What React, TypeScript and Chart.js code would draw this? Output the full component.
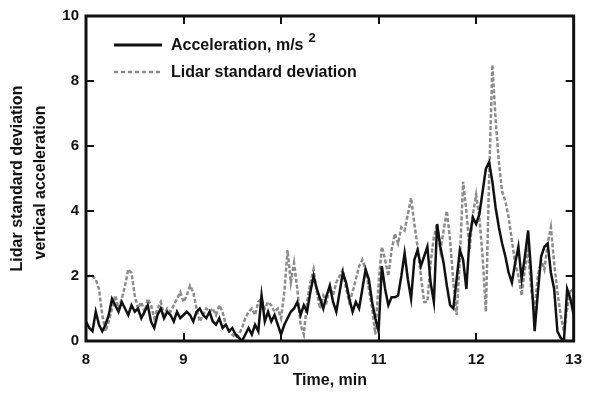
import { useEffect, useRef } from "react";
import { Chart, registerables } from "chart.js";

Chart.register(...registerables);

// Acceleration (black, solid) sampled every 2 s from 8 to 13 min
const acceleration = [
  0.6, 0.4, 0.3, 0.9, 0.5, 0.3, 0.5, 0.8, 1.3, 1.1, 0.9, 1.2, 1.0, 0.8, 1.1, 0.9,
  1.0, 0.7, 0.9, 1.1, 0.6, 0.4, 0.8, 1.0, 0.7, 0.9, 0.8, 0.6, 0.9, 0.7, 0.8,
  0.9, 0.8, 0.6, 0.9, 1.0, 0.8, 0.7, 0.9, 0.6, 0.5, 0.7, 0.4, 0.5, 0.3, 0.4,
  0.2, 0.1, 0.0, 0.2, 0.4, 0.2, 0.5, 0.3, 1.4, 0.6, 0.9, 0.6, 0.8, 0.5, 0.2,
  0.5, 0.7, 0.9, 1.0, 1.2, 0.8, 1.1, 0.9, 1.5, 2.0, 1.6, 1.3, 1.0, 1.4, 1.7,
  1.2, 0.9, 1.5, 2.1, 1.8, 1.3, 0.9, 1.2, 1.0, 1.6, 2.2, 1.9, 1.2, 0.7, 0.3,
  2.3, 1.6, 1.1, 1.35, 1.35, 1.4, 2.0, 2.7, 1.9, 1.3, 2.5, 2.8, 2.3, 2.6, 2.9,
  1.8, 1.2, 3.6, 2.9, 2.4, 1.7, 1.1, 1.0, 1.9, 2.8, 2.5, 1.6, 3.2, 3.8, 3.6,
  3.9, 4.6, 5.3, 5.5, 4.9, 4.1, 3.5, 3.0, 2.6, 2.1, 1.8, 2.4, 2.9, 1.9, 2.6,
  3.4, 2.0, 0.3, 1.5, 2.6, 2.9, 3.0, 2.1, 1.6, 0.3, 0.1, 0.0, 1.6, 1.3, 0.8,
];

// Lidar standard deviation (gray, dashed)
const lidarStd = [
  2.0, 2.0, 2.0, 1.9, 1.6, 0.8, 0.3, 0.6, 1.0, 1.4, 1.0, 1.3, 1.7, 2.2, 2.1, 1.4,
  1.0, 1.2, 0.9, 1.3, 1.1, 0.7, 1.0, 1.2, 0.8, 1.0, 0.9, 1.1, 1.3, 1.5, 1.2,
  1.4, 1.7, 1.5, 1.0, 0.6, 0.8, 1.0, 0.9, 1.0, 0.8, 1.1, 0.9, 0.5, 0.3, 0.2,
  0.1, 0.2, 0.4, 0.7, 0.9, 1.0, 0.8, 1.2, 1.3, 1.0, 1.2, 1.1, 0.9, 1.0, 0.7,
  1.5, 2.8, 1.8, 2.4, 1.6, 0.5, 0.2, 1.2, 1.8, 2.2, 1.5, 1.0, 1.4, 1.2, 1.7,
  1.4, 1.8, 2.0, 2.2, 1.6, 1.2, 1.5, 1.9, 2.3, 2.5, 2.2, 1.6, 1.0, 0.2, 1.8,
  2.9, 2.5, 2.0, 2.8, 3.3, 3.0, 3.5, 3.4, 3.9, 4.4, 3.6, 2.9, 2.0, 1.2, 1.2,
  2.4, 3.2, 3.6, 2.8, 3.4, 4.0, 3.1, 1.8, 0.8, 2.5, 4.9, 4.0, 2.8, 3.9, 4.5,
  3.8, 2.6, 0.9, 5.0, 8.5, 6.8, 5.5, 4.6, 4.3, 3.8, 3.1, 2.4, 2.0, 1.4, 2.2,
  2.8, 1.5, 1.0, 2.0, 2.5, 2.2, 3.0, 3.5, 2.4, 1.5, 0.8, 0.3, 1.0, 1.6, 1.5,
];

// sample times (min): one sample every 2 seconds
const sampleTimes = acceleration.map((_, i) => 8 + i / 30);

const xTicks = [8, 9, 10, 11, 12, 13];
const yTicks = [0, 2, 4, 6, 8, 10];
const accelLabel = "Acceleration, m/s";
const accelSup = "2";
const lidarLabel = "Lidar standard deviation";
const yTitleLines = ["Lidar standard deviation", "vertical acceleration"];
const xTitle = "Time, min";

const FONT = "'Liberation Sans', Arial, sans-serif";
const BLACK = "#111111";
const GRAY = "#8c8c8c";

const framePlugin = {
  id: "frameAndLegend",
  afterDraw(chart: any) {
    const ctx = chart.ctx;
    const { left, right, top, bottom } = chart.chartArea;
    const xs = chart.scales.x;
    const ys = chart.scales.y;
    ctx.save();
    // frame
    ctx.strokeStyle = BLACK;
    ctx.lineWidth = 3;
    ctx.strokeRect(left, top, right - left, bottom - top);
    // inward ticks
    ctx.lineWidth = 2;
    ctx.beginPath();
    xTicks.slice(1, -1).forEach((v) => {
      const px = Math.round(xs.getPixelForValue(v));
      ctx.moveTo(px, bottom);
      ctx.lineTo(px, bottom - 8);
      ctx.moveTo(px, top);
      ctx.lineTo(px, top + 8);
    });
    yTicks.slice(1, -1).forEach((v) => {
      const py = Math.round(ys.getPixelForValue(v));
      ctx.moveTo(left, py);
      ctx.lineTo(left + 8, py);
      ctx.moveTo(right, py);
      ctx.lineTo(right - 8, py);
    });
    ctx.stroke();

    // legend
    const lx0 = 114;
    const lx1 = 162;
    const tx = 171;
    ctx.lineWidth = 3;
    ctx.strokeStyle = BLACK;
    ctx.setLineDash([]);
    ctx.beginPath();
    ctx.moveTo(lx0, 45);
    ctx.lineTo(lx1, 45);
    ctx.stroke();
    ctx.strokeStyle = GRAY;
    ctx.lineWidth = 2.5;
    ctx.setLineDash([4, 3]);
    ctx.beginPath();
    ctx.moveTo(lx0, 72);
    ctx.lineTo(lx1, 72);
    ctx.stroke();
    ctx.setLineDash([]);

    ctx.fillStyle = BLACK;
    ctx.font = `bold 16px ${FONT}`;
    ctx.textAlign = "left";
    ctx.textBaseline = "middle";
    ctx.fillText(accelLabel, tx, 46);
    const w = ctx.measureText(accelLabel).width;
    ctx.font = `bold 13px ${FONT}`;
    ctx.fillText(accelSup, tx + w + 5, 38);
    ctx.font = `bold 16px ${FONT}`;
    ctx.fillText(lidarLabel, tx, 73);

    // axis titles
    ctx.textAlign = "center";
    ctx.fillText(xTitle, (left + right) / 2, 381);
    const cy = (top + bottom) / 2;
    ctx.translate(18, cy);
    ctx.rotate(-Math.PI / 2);
    ctx.fillText(yTitleLines[0], 0, 0);
    ctx.fillText(yTitleLines[1], -4, 23);
    ctx.restore();
  },
};

export default function App() {
  const ref = useRef<HTMLCanvasElement | null>(null);

  useEffect(() => {
    document.body.style.margin = "0";
    const canvas = ref.current;
    if (!canvas) return;
    const chart = new Chart(canvas, {
      type: "line",
      data: {
        datasets: [
          {
            label: accelLabel + accelSup,
            data: sampleTimes.map((t, i) => ({ x: t, y: acceleration[i] })),
            borderColor: BLACK,
            borderWidth: 2.5,
            pointRadius: 0,
            tension: 0,
            fill: false,
          },
          {
            label: lidarLabel,
            data: sampleTimes.map((t, i) => ({ x: t, y: lidarStd[i] })),
            borderColor: GRAY,
            borderWidth: 2.5,
            borderDash: [4, 2],
            pointRadius: 0,
            tension: 0,
            fill: false,
          },
        ],
      },
      options: {
        animation: false,
        responsive: false,
        maintainAspectRatio: false,
        devicePixelRatio: 1,
        layout: { padding: { left: 0, right: 14, top: 16, bottom: 0 } },
        plugins: {
          legend: { display: false },
          tooltip: { enabled: false },
          title: { display: false },
        },
        scales: {
          x: {
            type: "linear",
            min: 8,
            max: 13,
            afterFit: (s: any) => {
              s.height = 55;
            },
            afterBuildTicks: (s: any) => {
              s.ticks = xTicks.map((v) => ({ value: v }));
            },
            grid: { display: false, drawTicks: false },
            border: { display: false },
            ticks: {
              padding: 10,
              color: BLACK,
              font: { family: FONT, size: 15, weight: "bold" },
              callback: (v: any) => String(v),
            },
          },
          y: {
            type: "linear",
            min: 0,
            max: 10,
            afterFit: (s: any) => {
              s.width = 86;
            },
            afterBuildTicks: (s: any) => {
              s.ticks = yTicks.map((v) => ({ value: v }));
            },
            grid: { display: false, drawTicks: false },
            border: { display: false },
            ticks: {
              padding: 7,
              color: BLACK,
              font: { family: FONT, size: 15, weight: "bold" },
              callback: (v: any) => String(v),
            },
          },
        },
      },
      plugins: [framePlugin],
    });
    return () => chart.destroy();
  }, []);

  return (
    <div style={{ position: "absolute", left: 0, top: 0, width: 592, height: 396, background: "#fff" }}>
      <canvas ref={ref} width={592} height={396} style={{ width: 592, height: 396, display: "block" }} />
    </div>
  );
}
